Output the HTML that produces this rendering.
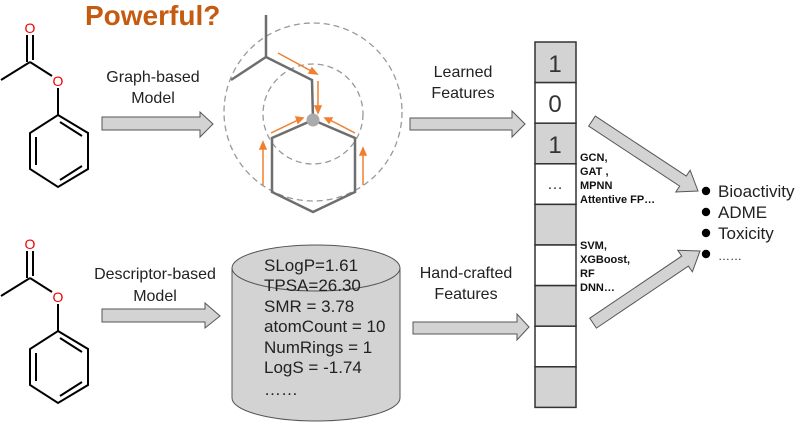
<!DOCTYPE html>
<html><head><meta charset="utf-8"><style>
html,body{margin:0;padding:0;background:#fff;}
svg{display:block;font-family:"Liberation Sans",Arial,sans-serif;}
</style></head><body>
<svg width="795" height="424" viewBox="0 0 795 424" xmlns="http://www.w3.org/2000/svg">
<defs>
<g id="mol" fill="none" stroke="#000" stroke-width="2">
  <line x1="30" y1="62" x2="1" y2="80"/>
  <line x1="30" y1="62" x2="52" y2="76"/>
  <line x1="27" y1="35" x2="27" y2="62" stroke="#000"/>
  <line x1="33" y1="35" x2="33" y2="60"/>
  <line x1="58" y1="88" x2="58" y2="115"/>
  <polygon points="58,115 88,133 88,169 58,187 30,169 30,133"/>
  <line x1="60" y1="122" x2="82" y2="136"/>
  <line x1="36" y1="137" x2="36" y2="165"/>
  <line x1="82" y1="166" x2="60" y2="180"/>
  <text x="30" y="33" fill="#e00" stroke="none" font-size="14" text-anchor="middle">O</text>
  <text x="58" y="86" fill="#e00" stroke="none" font-size="14" text-anchor="middle">O</text>
</g>
<g id="arr"><polygon points="0,-6 0,6 -18,6 -18,13 0,0" /></g>
</defs>

<use href="#mol"/>
<use href="#mol" transform="translate(0,216)"/>

<text x="85" y="25" font-size="28" font-weight="bold" fill="#c55a11">Powerful?</text>

<g font-size="16" fill="#222" text-anchor="middle">
<text x="153" y="82">Graph-based</text>
<text x="153" y="103">Model</text>
<text x="155" y="279">Descriptor-based</text>
<text x="155" y="301">Model</text>
<text x="463" y="77">Learned</text>
<text x="463" y="98">Features</text>
<text x="466" y="278">Hand-crafted</text>
<text x="466" y="299">Features</text>
</g>

<g fill="#d3d3d3" stroke="#555" stroke-width="1">
<polygon points="102,117 200,117 200,112 213,124 200,137 200,130 102,130"/>
<polygon points="102,309 205,309 205,303 220,316 205,328 205,322 102,322"/>
<polygon points="410,118 512,118 512,111 525,124 512,137 512,130 410,130"/>
<polygon points="413,322 517,322 517,314 529,327 517,340 517,334 413,334"/>
<polygon transform="translate(698,191) rotate(33.4)" points="-127,-6 -18,-6 -18,-13 0,0 -18,13 -18,6 -127,6"/>
<polygon transform="translate(700,251) rotate(-34)" points="-129,-6 -18,-6 -18,-13 0,0 -18,13 -18,6 -129,6"/>
</g>

<!-- graph -->
<g fill="none" stroke="#999" stroke-width="1.3" stroke-dasharray="6,4">
<circle cx="313" cy="112" r="89"/>
<circle cx="313" cy="114" r="50"/>
</g>
<g fill="none" stroke="#6e6e6e" stroke-width="2.5">
<polyline points="266,15 266,57 231,80"/>
<polyline points="266,57 312,80 313,120"/>
<polygon points="313,120 355,138 355,192 313,212 272,192 272,138"/>
</g>
<circle cx="313" cy="120" r="6.5" fill="#aaa"/>
<g stroke="#f08030" stroke-width="1.5" fill="#f08030">
<line x1="278" y1="53" x2="313" y2="72"/><polygon points="317,74 309,73 312,68"/>
<line x1="318" y1="81" x2="318" y2="108"/><polygon points="318,113 315,106 321,106"/>
<line x1="271" y1="133" x2="298" y2="120"/><polygon points="303,118 298,123 296,117"/>
<line x1="355" y1="133" x2="330" y2="120"/><polygon points="325,118 332,118 329,123"/>
<line x1="263" y1="185" x2="263" y2="147"/><polygon points="263,142 260,149 266,149"/>
<line x1="363" y1="185" x2="363" y2="153"/><polygon points="363,148 360,155 366,155"/>
</g>

<!-- cylinder -->
<path d="M232,268 L232,398 A84,23 0 0 0 400,398 L400,268" fill="#d3d3d3" stroke="#555" stroke-width="1"/>
<ellipse cx="316" cy="268" rx="84" ry="23" fill="#d3d3d3" stroke="#555" stroke-width="1"/>
<g font-size="17" fill="#222">
<text x="264" y="271">SLogP=1.61</text>
<text x="264" y="291">TPSA=26.30</text>
<text x="264" y="312">SMR = 3.78</text>
<text x="264" y="332">atomCount = 10</text>
<text x="264" y="353">NumRings = 1</text>
<text x="264" y="373">LogS = -1.74</text>
<text x="264" y="395">……</text>
</g>

<!-- vector -->
<g stroke="#333" stroke-width="1.5">
<rect x="535" y="42" width="41" height="40.6" fill="#d3d3d3"/>
<rect x="535" y="82.6" width="41" height="40.6" fill="#fff"/>
<rect x="535" y="123.2" width="41" height="40.6" fill="#d3d3d3"/>
<rect x="535" y="163.8" width="41" height="40.6" fill="#fff"/>
<rect x="535" y="204.4" width="41" height="40.6" fill="#d3d3d3"/>
<rect x="535" y="245" width="41" height="40.6" fill="#fff"/>
<rect x="535" y="285.6" width="41" height="40.6" fill="#d3d3d3"/>
<rect x="535" y="326.2" width="41" height="40.6" fill="#fff"/>
<rect x="535" y="366.8" width="41" height="40.6" fill="#d3d3d3"/>
</g>
<g font-size="24" fill="#333" text-anchor="middle">
<text x="555" y="72">1</text>
<text x="555" y="112">0</text>
<text x="555" y="153">1</text>
<text x="555" y="189" font-size="16">…</text>
</g>
<g font-size="11" font-weight="bold" fill="#111">
<text x="580" y="161">GCN,</text>
<text x="580" y="175">GAT ,</text>
<text x="580" y="189">MPNN</text>
<text x="580" y="203">Attentive FP…</text>
<text x="580" y="249">SVM,</text>
<text x="580" y="263">XGBoost,</text>
<text x="580" y="277">RF</text>
<text x="580" y="291">DNN…</text>
</g>
<g fill="#000">
<circle cx="706" cy="191" r="4.2"/><circle cx="706" cy="212" r="4.2"/>
<circle cx="706" cy="233" r="4.2"/><circle cx="706" cy="254" r="4.2"/>
</g>
<g font-size="17" fill="#222">
<text x="718" y="197">Bioactivity</text>
<text x="718" y="218">ADME</text>
<text x="718" y="239">Toxicity</text>
<text x="718" y="260" font-size="12">……</text>
</g>
</svg>
</body></html>
